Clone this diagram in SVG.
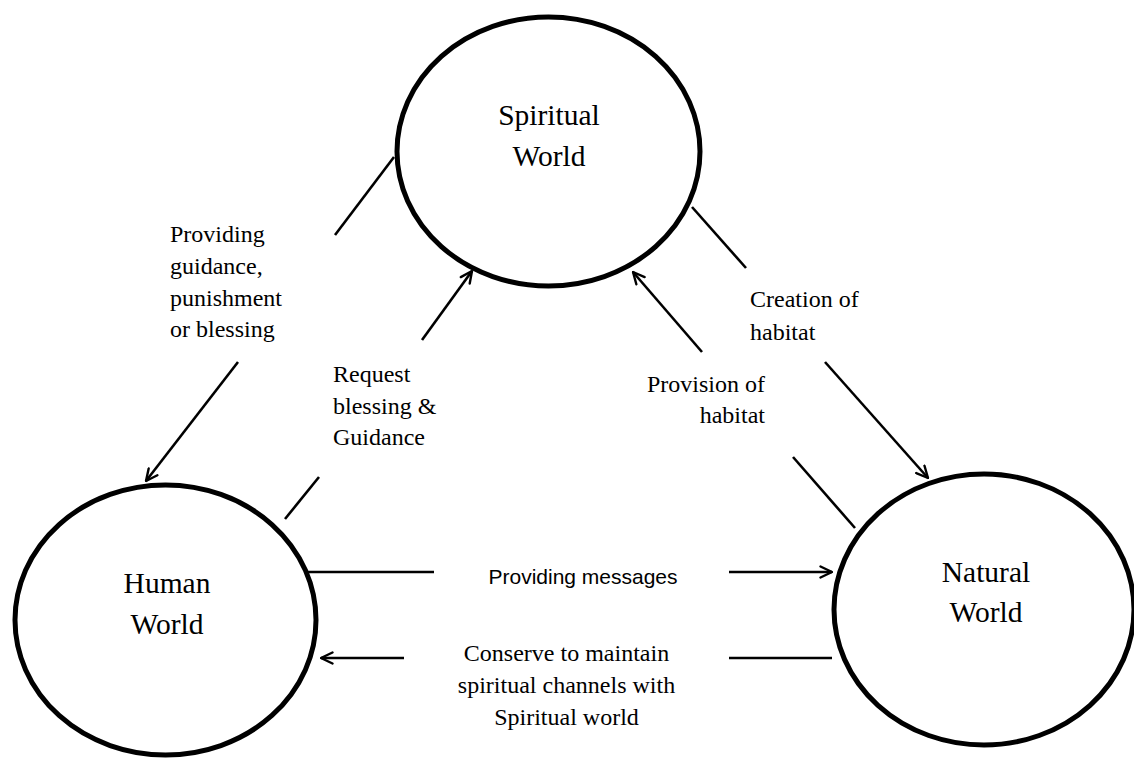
<svg xmlns="http://www.w3.org/2000/svg" width="1134" height="758" viewBox="0 0 1134 758">
  <defs>
    <marker id="arrow" viewBox="0 0 14 14" refX="13" refY="7" markerWidth="14" markerHeight="14" markerUnits="userSpaceOnUse" orient="auto">
      <path d="M1.5,1.5 L13,7 L1.5,12.5" fill="none" stroke="#000" stroke-width="2.4" stroke-linecap="round" stroke-linejoin="round"/>
    </marker>
  </defs>
  <style>
    .node { fill: #fff; stroke: #000; stroke-width: 5; }
    .nlabel { font-family: "Liberation Serif", "Times New Roman", serif; font-size: 29.5px; fill: #000; text-anchor: middle; }
    .elabel { font-family: "Liberation Serif", "Times New Roman", serif; font-size: 24px; fill: #000; }
    .slabel { font-family: "Liberation Sans", Arial, sans-serif; font-size: 21px; fill: #000; }
    .conn { stroke: #000; stroke-width: 2.6; fill: none; }
  </style>
  <rect width="1134" height="758" fill="#fff"/>

  <g id="spiritual-world">
    <ellipse class="node" cx="548.5" cy="151.5" rx="151.5" ry="134.5"/>
    <text class="nlabel" x="549" y="125">Spiritual</text>
    <text class="nlabel" x="549" y="166">World</text>
  </g>

  <g id="human-world">
    <ellipse class="node" cx="165.5" cy="620" rx="150.5" ry="135"/>
    <text class="nlabel" x="167" y="593">Human</text>
    <text class="nlabel" x="167" y="634">World</text>
  </g>

  <g id="natural-world">
    <ellipse class="node" cx="984" cy="609.5" rx="150" ry="135.5"/>
    <text class="nlabel" x="986" y="582">Natural</text>
    <text class="nlabel" x="986" y="622">World</text>
  </g>

  <g id="connectors">
    <!-- Spiritual -> Human: Providing guidance -->
    <line class="conn" x1="394" y1="157" x2="335" y2="235"/>
    <line class="conn" x1="238" y1="362" x2="146" y2="481" marker-end="url(#arrow)"/>
    <!-- Human -> Spiritual: Request blessing -->
    <line class="conn" x1="285" y1="519" x2="319" y2="477"/>
    <line class="conn" x1="422" y1="340" x2="472" y2="271" marker-end="url(#arrow)"/>
    <!-- Spiritual -> Natural: Creation of habitat -->
    <line class="conn" x1="692" y1="207" x2="746" y2="268"/>
    <line class="conn" x1="825" y1="362" x2="928" y2="478" marker-end="url(#arrow)"/>
    <!-- Natural -> Spiritual: Provision of habitat -->
    <line class="conn" x1="855" y1="528" x2="793" y2="457"/>
    <line class="conn" x1="702" y1="352" x2="633" y2="272" marker-end="url(#arrow)"/>
    <!-- Human -> Natural: Providing messages -->
    <line class="conn" x1="306" y1="572" x2="434" y2="572"/>
    <line class="conn" x1="729" y1="572" x2="832" y2="572" marker-end="url(#arrow)"/>
    <!-- Natural -> Human: Conserve -->
    <line class="conn" x1="832" y1="658" x2="729" y2="658"/>
    <line class="conn" x1="404" y1="658" x2="321" y2="658" marker-end="url(#arrow)"/>
  </g>

  <g id="edge-labels">
    <text class="elabel" x="170" y="242">Providing</text>
    <text class="elabel" x="170" y="274">guidance,</text>
    <text class="elabel" x="170" y="306">punishment</text>
    <text class="elabel" x="170" y="337">or blessing</text>

    <text class="elabel" x="333" y="382">Request</text>
    <text class="elabel" x="333" y="414">blessing &amp;</text>
    <text class="elabel" x="333" y="445">Guidance</text>

    <text class="elabel" x="750" y="307">Creation of</text>
    <text class="elabel" x="750" y="340">habitat</text>

    <text class="elabel" x="765" y="392" text-anchor="end">Provision of</text>
    <text class="elabel" x="765" y="423" text-anchor="end">habitat</text>

    <text class="slabel" x="583" y="584" text-anchor="middle">Providing messages</text>

    <text class="elabel" x="566.5" y="661" text-anchor="middle">Conserve to maintain</text>
    <text class="elabel" x="566.5" y="693" text-anchor="middle">spiritual channels with</text>
    <text class="elabel" x="566.5" y="725" text-anchor="middle">Spiritual world</text>
  </g>
</svg>
